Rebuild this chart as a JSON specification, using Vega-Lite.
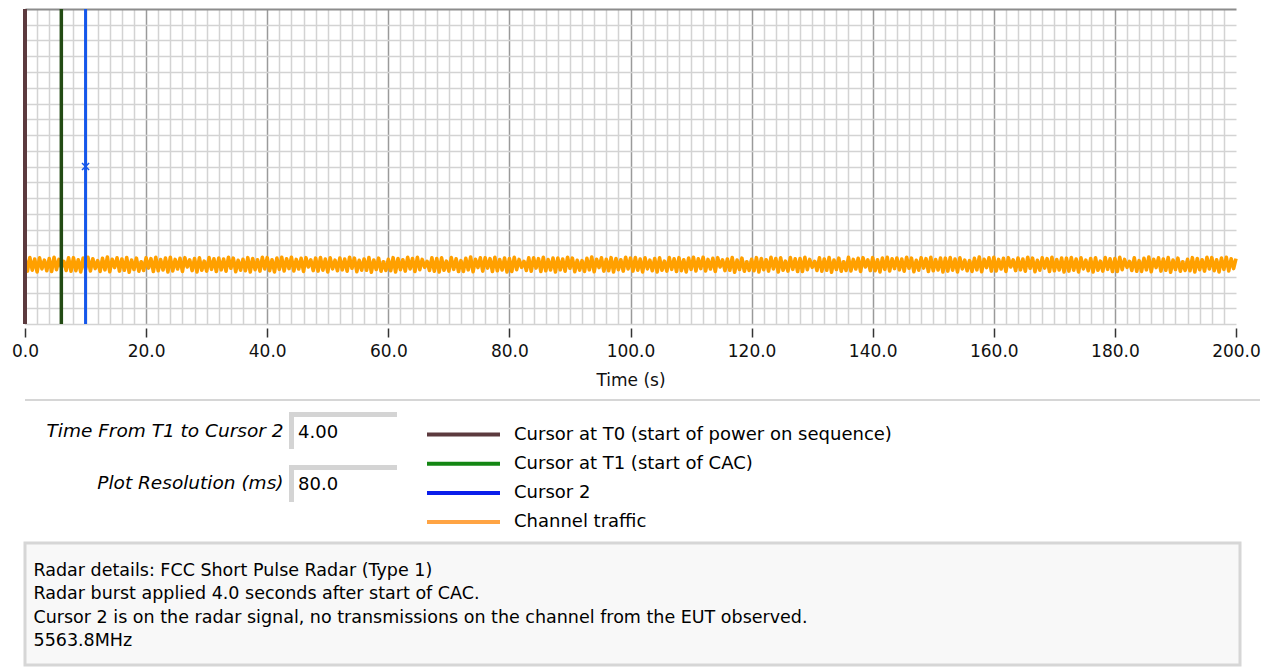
{
"$schema": "https://vega.github.io/schema/vega-lite/v6.json",
"background": "white",
"padding": {"left": 10, "top": 7, "right": 2, "bottom": 0},
"spacing": 9,
"config": {"view": {"stroke": null}, "font": "DejaVu Sans"},
"resolve": {"scale": {"color": "independent"}, "legend": {"color": "independent"}},
"datasets": {
"cursors": [{"t":0,"series":"Cursor at T0 (start of power on sequence)"},{"t":6,"series":"Cursor at T1 (start of CAC)"},{"t":10,"series":"Cursor 2"}],
"marker": [{"t":10,"v":10}],
"fields": [{"label":"Time From T1 to Cursor 2","value":"4.00"},{"label":"Plot Resolution (ms)","value":"80.0"}],
"legend": [{"series":"Cursor at T0 (start of power on sequence)"},{"series":"Cursor at T1 (start of CAC)"},{"series":"Cursor 2"},{"series":"Channel traffic"}],
"notes": [{"line":"Radar details: FCC Short Pulse Radar (Type 1)"},{"line":"Radar burst applied 4.0 seconds after start of CAC."},{"line":"Cursor 2 is on the radar signal, no transmissions on the channel from the EUT observed."},{"line":"5563.8MHz"}],
"traffic": [
{"t":0,"v":4.18},{"t":0.4,"v":3.36},{"t":0.8,"v":4.22},{"t":1.2,"v":3.42},{"t":1.6,"v":4.12},{"t":2,"v":3.3},{"t":2.4,"v":4.2},{"t":2.8,"v":3.5},{"t":3.2,"v":4.05},{"t":3.6,"v":3.38},
{"t":4,"v":4.16},{"t":4.4,"v":3.33},{"t":4.8,"v":4.24},{"t":5.2,"v":3.45},{"t":5.6,"v":4.1},{"t":6,"v":3.6},{"t":6.4,"v":3.98},{"t":6.8,"v":3.4},{"t":7.2,"v":4.2},{"t":7.6,"v":3.35},
{"t":8,"v":4.21},{"t":8.4,"v":3.39},{"t":8.8,"v":4.08},{"t":9.2,"v":3.31},{"t":9.6,"v":4.19},{"t":10,"v":3.47},{"t":10.4,"v":4.23},{"t":10.8,"v":3.37},{"t":11.2,"v":4.14},{"t":11.6,"v":3.52},
{"t":12,"v":4.02},{"t":12.4,"v":3.34},{"t":12.8,"v":4.17},{"t":13.2,"v":3.44},{"t":13.6,"v":4.25},{"t":14,"v":3.32},{"t":14.4,"v":4.11},{"t":14.8,"v":3.58},{"t":15.2,"v":4.2},{"t":15.6,"v":3.36},
{"t":16,"v":4.13},{"t":16.4,"v":3.41},{"t":16.8,"v":4.22},{"t":17.2,"v":3.29},{"t":17.6,"v":4.06},{"t":18,"v":3.46},{"t":18.4,"v":4.18},{"t":18.8,"v":3.35},{"t":19.2,"v":3.95},{"t":19.6,"v":3.4},
{"t":20,"v":4.2},{"t":20.4,"v":3.55},{"t":20.8,"v":4.15},{"t":21.2,"v":3.33},{"t":21.6,"v":4.23},{"t":22,"v":3.38},{"t":22.4,"v":4.09},{"t":22.8,"v":3.43},{"t":23.2,"v":4.19},{"t":23.6,"v":3.31},
{"t":24,"v":4.24},{"t":24.4,"v":3.37},{"t":24.8,"v":4.1},{"t":25.2,"v":3.49},{"t":25.6,"v":4.17},{"t":26,"v":3.34},{"t":26.4,"v":4.21},{"t":26.8,"v":3.62},{"t":27.2,"v":4.07},{"t":27.6,"v":3.39},
{"t":28,"v":4.16},{"t":28.4,"v":3.3},{"t":28.8,"v":4.2},{"t":29.2,"v":3.41},{"t":29.6,"v":3.99},{"t":30,"v":3.36},{"t":30.4,"v":4.22},{"t":30.8,"v":3.47},{"t":31.2,"v":4.14},{"t":31.6,"v":3.33},
{"t":32,"v":4.19},{"t":32.4,"v":3.44},{"t":32.8,"v":4.12},{"t":33.2,"v":3.35},{"t":33.6,"v":4.24},{"t":34,"v":3.54},{"t":34.4,"v":4.18},{"t":34.8,"v":3.32},{"t":35.2,"v":4.04},{"t":35.6,"v":3.42},
{"t":36,"v":4.11},{"t":36.4,"v":3.38},{"t":36.8,"v":4.21},{"t":37.2,"v":3.3},{"t":37.6,"v":4.16},{"t":38,"v":3.45},{"t":38.4,"v":4.08},{"t":38.8,"v":3.36},{"t":39.2,"v":4.23},{"t":39.6,"v":3.5},
{"t":40,"v":4.21},{"t":40.4,"v":3.39},{"t":40.8,"v":4.08},{"t":41.2,"v":3.31},{"t":41.6,"v":4.19},{"t":42,"v":3.47},{"t":42.4,"v":4.23},{"t":42.8,"v":3.37},{"t":43.2,"v":4.14},{"t":43.6,"v":3.52},
{"t":44,"v":4.24},{"t":44.4,"v":3.37},{"t":44.8,"v":4.1},{"t":45.2,"v":3.49},{"t":45.6,"v":4.17},{"t":46,"v":3.34},{"t":46.4,"v":4.21},{"t":46.8,"v":3.62},{"t":47.2,"v":4.07},{"t":47.6,"v":3.39},
{"t":48,"v":4.18},{"t":48.4,"v":3.36},{"t":48.8,"v":4.22},{"t":49.2,"v":3.42},{"t":49.6,"v":4.12},{"t":50,"v":3.3},{"t":50.4,"v":4.2},{"t":50.8,"v":3.5},{"t":51.2,"v":4.05},{"t":51.6,"v":3.38},
{"t":52,"v":4.19},{"t":52.4,"v":3.44},{"t":52.8,"v":4.12},{"t":53.2,"v":3.35},{"t":53.6,"v":4.24},{"t":54,"v":3.54},{"t":54.4,"v":4.18},{"t":54.8,"v":3.32},{"t":55.2,"v":4.04},{"t":55.6,"v":3.42},
{"t":56,"v":4.13},{"t":56.4,"v":3.41},{"t":56.8,"v":4.22},{"t":57.2,"v":3.29},{"t":57.6,"v":4.06},{"t":58,"v":3.46},{"t":58.4,"v":4.18},{"t":58.8,"v":3.35},{"t":59.2,"v":3.95},{"t":59.6,"v":3.4},
{"t":60,"v":4.11},{"t":60.4,"v":3.38},{"t":60.8,"v":4.21},{"t":61.2,"v":3.3},{"t":61.6,"v":4.16},{"t":62,"v":3.45},{"t":62.4,"v":4.08},{"t":62.8,"v":3.36},{"t":63.2,"v":4.23},{"t":63.6,"v":3.5},
{"t":64,"v":4.16},{"t":64.4,"v":3.33},{"t":64.8,"v":4.24},{"t":65.2,"v":3.45},{"t":65.6,"v":4.1},{"t":66,"v":3.6},{"t":66.4,"v":3.98},{"t":66.8,"v":3.4},{"t":67.2,"v":4.2},{"t":67.6,"v":3.35},
{"t":68,"v":4.16},{"t":68.4,"v":3.3},{"t":68.8,"v":4.2},{"t":69.2,"v":3.41},{"t":69.6,"v":3.99},{"t":70,"v":3.36},{"t":70.4,"v":4.22},{"t":70.8,"v":3.47},{"t":71.2,"v":4.14},{"t":71.6,"v":3.33},
{"t":72,"v":4.02},{"t":72.4,"v":3.34},{"t":72.8,"v":4.17},{"t":73.2,"v":3.44},{"t":73.6,"v":4.25},{"t":74,"v":3.32},{"t":74.4,"v":4.11},{"t":74.8,"v":3.58},{"t":75.2,"v":4.2},{"t":75.6,"v":3.36},
{"t":76,"v":4.2},{"t":76.4,"v":3.55},{"t":76.8,"v":4.15},{"t":77.2,"v":3.33},{"t":77.6,"v":4.23},{"t":78,"v":3.38},{"t":78.4,"v":4.09},{"t":78.8,"v":3.43},{"t":79.2,"v":4.19},{"t":79.6,"v":3.31},
{"t":80,"v":4.16},{"t":80.4,"v":3.33},{"t":80.8,"v":4.24},{"t":81.2,"v":3.45},{"t":81.6,"v":4.1},{"t":82,"v":3.6},{"t":82.4,"v":3.98},{"t":82.8,"v":3.4},{"t":83.2,"v":4.2},{"t":83.6,"v":3.35},
{"t":84,"v":4.2},{"t":84.4,"v":3.55},{"t":84.8,"v":4.15},{"t":85.2,"v":3.33},{"t":85.6,"v":4.23},{"t":86,"v":3.38},{"t":86.4,"v":4.09},{"t":86.8,"v":3.43},{"t":87.2,"v":4.19},{"t":87.6,"v":3.31},
{"t":88,"v":4.19},{"t":88.4,"v":3.44},{"t":88.8,"v":4.12},{"t":89.2,"v":3.35},{"t":89.6,"v":4.24},{"t":90,"v":3.54},{"t":90.4,"v":4.18},{"t":90.8,"v":3.32},{"t":91.2,"v":4.04},{"t":91.6,"v":3.42},
{"t":92,"v":4.02},{"t":92.4,"v":3.34},{"t":92.8,"v":4.17},{"t":93.2,"v":3.44},{"t":93.6,"v":4.25},{"t":94,"v":3.32},{"t":94.4,"v":4.11},{"t":94.8,"v":3.58},{"t":95.2,"v":4.2},{"t":95.6,"v":3.36},
{"t":96,"v":4.11},{"t":96.4,"v":3.38},{"t":96.8,"v":4.21},{"t":97.2,"v":3.3},{"t":97.6,"v":4.16},{"t":98,"v":3.45},{"t":98.4,"v":4.08},{"t":98.8,"v":3.36},{"t":99.2,"v":4.23},{"t":99.6,"v":3.5},
{"t":100,"v":4.18},{"t":100.4,"v":3.36},{"t":100.8,"v":4.22},{"t":101.2,"v":3.42},{"t":101.6,"v":4.12},{"t":102,"v":3.3},{"t":102.4,"v":4.2},{"t":102.8,"v":3.5},{"t":103.2,"v":4.05},{"t":103.6,"v":3.38},
{"t":104,"v":4.16},{"t":104.4,"v":3.3},{"t":104.8,"v":4.2},{"t":105.2,"v":3.41},{"t":105.6,"v":3.99},{"t":106,"v":3.36},{"t":106.4,"v":4.22},{"t":106.8,"v":3.47},{"t":107.2,"v":4.14},{"t":107.6,"v":3.33},
{"t":108,"v":4.21},{"t":108.4,"v":3.39},{"t":108.8,"v":4.08},{"t":109.2,"v":3.31},{"t":109.6,"v":4.19},{"t":110,"v":3.47},{"t":110.4,"v":4.23},{"t":110.8,"v":3.37},{"t":111.2,"v":4.14},{"t":111.6,"v":3.52},
{"t":112,"v":4.24},{"t":112.4,"v":3.37},{"t":112.8,"v":4.1},{"t":113.2,"v":3.49},{"t":113.6,"v":4.17},{"t":114,"v":3.34},{"t":114.4,"v":4.21},{"t":114.8,"v":3.62},{"t":115.2,"v":4.07},{"t":115.6,"v":3.39},
{"t":116,"v":4.13},{"t":116.4,"v":3.41},{"t":116.8,"v":4.22},{"t":117.2,"v":3.29},{"t":117.6,"v":4.06},{"t":118,"v":3.46},{"t":118.4,"v":4.18},{"t":118.8,"v":3.35},{"t":119.2,"v":3.95},{"t":119.6,"v":3.4},
{"t":120,"v":4.11},{"t":120.4,"v":3.38},{"t":120.8,"v":4.21},{"t":121.2,"v":3.3},{"t":121.6,"v":4.16},{"t":122,"v":3.45},{"t":122.4,"v":4.08},{"t":122.8,"v":3.36},{"t":123.2,"v":4.23},{"t":123.6,"v":3.5},
{"t":124,"v":4.16},{"t":124.4,"v":3.3},{"t":124.8,"v":4.2},{"t":125.2,"v":3.41},{"t":125.6,"v":3.99},{"t":126,"v":3.36},{"t":126.4,"v":4.22},{"t":126.8,"v":3.47},{"t":127.2,"v":4.14},{"t":127.6,"v":3.33},
{"t":128,"v":4.16},{"t":128.4,"v":3.33},{"t":128.8,"v":4.24},{"t":129.2,"v":3.45},{"t":129.6,"v":4.1},{"t":130,"v":3.6},{"t":130.4,"v":3.98},{"t":130.8,"v":3.4},{"t":131.2,"v":4.2},{"t":131.6,"v":3.35},
{"t":132,"v":4.13},{"t":132.4,"v":3.41},{"t":132.8,"v":4.22},{"t":133.2,"v":3.29},{"t":133.6,"v":4.06},{"t":134,"v":3.46},{"t":134.4,"v":4.18},{"t":134.8,"v":3.35},{"t":135.2,"v":3.95},{"t":135.6,"v":3.4},
{"t":136,"v":4.24},{"t":136.4,"v":3.37},{"t":136.8,"v":4.1},{"t":137.2,"v":3.49},{"t":137.6,"v":4.17},{"t":138,"v":3.34},{"t":138.4,"v":4.21},{"t":138.8,"v":3.62},{"t":139.2,"v":4.07},{"t":139.6,"v":3.39},
{"t":140,"v":4.21},{"t":140.4,"v":3.39},{"t":140.8,"v":4.08},{"t":141.2,"v":3.31},{"t":141.6,"v":4.19},{"t":142,"v":3.47},{"t":142.4,"v":4.23},{"t":142.8,"v":3.37},{"t":143.2,"v":4.14},{"t":143.6,"v":3.52},
{"t":144,"v":4.19},{"t":144.4,"v":3.44},{"t":144.8,"v":4.12},{"t":145.2,"v":3.35},{"t":145.6,"v":4.24},{"t":146,"v":3.54},{"t":146.4,"v":4.18},{"t":146.8,"v":3.32},{"t":147.2,"v":4.04},{"t":147.6,"v":3.42},
{"t":148,"v":4.2},{"t":148.4,"v":3.55},{"t":148.8,"v":4.15},{"t":149.2,"v":3.33},{"t":149.6,"v":4.23},{"t":150,"v":3.38},{"t":150.4,"v":4.09},{"t":150.8,"v":3.43},{"t":151.2,"v":4.19},{"t":151.6,"v":3.31},
{"t":152,"v":4.18},{"t":152.4,"v":3.36},{"t":152.8,"v":4.22},{"t":153.2,"v":3.42},{"t":153.6,"v":4.12},{"t":154,"v":3.3},{"t":154.4,"v":4.2},{"t":154.8,"v":3.5},{"t":155.2,"v":4.05},{"t":155.6,"v":3.38},
{"t":156,"v":4.02},{"t":156.4,"v":3.34},{"t":156.8,"v":4.17},{"t":157.2,"v":3.44},{"t":157.6,"v":4.25},{"t":158,"v":3.32},{"t":158.4,"v":4.11},{"t":158.8,"v":3.58},{"t":159.2,"v":4.2},{"t":159.6,"v":3.36},
{"t":160,"v":4.24},{"t":160.4,"v":3.37},{"t":160.8,"v":4.1},{"t":161.2,"v":3.49},{"t":161.6,"v":4.17},{"t":162,"v":3.34},{"t":162.4,"v":4.21},{"t":162.8,"v":3.62},{"t":163.2,"v":4.07},{"t":163.6,"v":3.39},
{"t":164,"v":4.19},{"t":164.4,"v":3.44},{"t":164.8,"v":4.12},{"t":165.2,"v":3.35},{"t":165.6,"v":4.24},{"t":166,"v":3.54},{"t":166.4,"v":4.18},{"t":166.8,"v":3.32},{"t":167.2,"v":4.04},{"t":167.6,"v":3.42},
{"t":168,"v":4.2},{"t":168.4,"v":3.55},{"t":168.8,"v":4.15},{"t":169.2,"v":3.33},{"t":169.6,"v":4.23},{"t":170,"v":3.38},{"t":170.4,"v":4.09},{"t":170.8,"v":3.43},{"t":171.2,"v":4.19},{"t":171.6,"v":3.31},
{"t":172,"v":4.18},{"t":172.4,"v":3.36},{"t":172.8,"v":4.22},{"t":173.2,"v":3.42},{"t":173.6,"v":4.12},{"t":174,"v":3.3},{"t":174.4,"v":4.2},{"t":174.8,"v":3.5},{"t":175.2,"v":4.05},{"t":175.6,"v":3.38},
{"t":176,"v":4.16},{"t":176.4,"v":3.3},{"t":176.8,"v":4.2},{"t":177.2,"v":3.41},{"t":177.6,"v":3.99},{"t":178,"v":3.36},{"t":178.4,"v":4.22},{"t":178.8,"v":3.47},{"t":179.2,"v":4.14},{"t":179.6,"v":3.33},
{"t":180,"v":4.16},{"t":180.4,"v":3.33},{"t":180.8,"v":4.24},{"t":181.2,"v":3.45},{"t":181.6,"v":4.1},{"t":182,"v":3.6},{"t":182.4,"v":3.98},{"t":182.8,"v":3.4},{"t":183.2,"v":4.2},{"t":183.6,"v":3.35},
{"t":184,"v":4.02},{"t":184.4,"v":3.34},{"t":184.8,"v":4.17},{"t":185.2,"v":3.44},{"t":185.6,"v":4.25},{"t":186,"v":3.32},{"t":186.4,"v":4.11},{"t":186.8,"v":3.58},{"t":187.2,"v":4.2},{"t":187.6,"v":3.36},
{"t":188,"v":4.13},{"t":188.4,"v":3.41},{"t":188.8,"v":4.22},{"t":189.2,"v":3.29},{"t":189.6,"v":4.06},{"t":190,"v":3.46},{"t":190.4,"v":4.18},{"t":190.8,"v":3.35},{"t":191.2,"v":3.95},{"t":191.6,"v":3.4},
{"t":192,"v":4.11},{"t":192.4,"v":3.38},{"t":192.8,"v":4.21},{"t":193.2,"v":3.3},{"t":193.6,"v":4.16},{"t":194,"v":3.45},{"t":194.4,"v":4.08},{"t":194.8,"v":3.36},{"t":195.2,"v":4.23},{"t":195.6,"v":3.5},
{"t":196,"v":4.21},{"t":196.4,"v":3.39},{"t":196.8,"v":4.08},{"t":197.2,"v":3.31},{"t":197.6,"v":4.19},{"t":198,"v":3.47},{"t":198.4,"v":4.23},{"t":198.8,"v":3.37},{"t":199.2,"v":4.14},{"t":199.6,"v":3.52},
{"t":200,"v":4.15}
]
},
"vconcat": [
{
"width": 1211,
"height": 315,
"encoding": {
"x": {"field": "t", "type": "quantitative", "scale": {"domain": [0, 200], "nice": false, "zero": false},
"axis": {"title": "Time (s)", "values": [0,2,4,6,8,10,12,14,16,18,20,22,24,26,28,30,32,34,36,38,40,42,44,46,48,50,52,54,56,58,60,62,64,66,68,70,72,74,76,78,80,82,84,86,88,90,92,94,96,98,100,102,104,106,108,110,112,114,116,118,120,122,124,126,128,130,132,134,136,138,140,142,144,146,148,150,152,154,156,158,160,162,164,166,168,170,172,174,176,178,180,182,184,186,188,190,192,194,196,198,200],
"labelExpr": "datum.value % 20 === 0 ? format(datum.value, '.1f') : ''",
"labelFlush": false, "labelOverlap": false, "labelFont": "DejaVu Sans", "labelFontSize": 17, "labelColor": "#111111", "labelPadding": 6,
"offset": 4, "tickSize": 9, "tickWidth": 1.5, "tickColor": "#333333",
"tickOpacity": {"condition": {"test": "datum.value % 20 !== 0", "value": 0}, "value": 1},
"domain": false, "grid": true,
"gridColor": {"condition": {"test": "datum.value % 20 === 0", "value": "#9A9A9A"}, "value": "#D3D3D3"},
"gridOpacity": {"condition": {"test": "datum.value === 200", "value": 0}, "value": 1},
"gridWidth": 1.5,
"titleFont": "DejaVu Sans", "titleFontSize": 17, "titleFontWeight": "normal", "titleColor": "#111111", "titlePadding": 13}}
},
"layer": [
{"data": {"name": "traffic"}, "mark": {"type": "line", "color": "#FFA000", "strokeWidth": 3.6, "strokeJoin": "round"},
"encoding": {"y": {"field": "v", "type": "quantitative", "scale": {"domain": [0, 20], "nice": false, "zero": false},
"axis": {"title": null, "values": [0,1,2,3,4,5,6,7,8,9,10,11,12,13,14,15,16,17,18,19,20], "labels": false, "ticks": true, "tickSize": 15, "tickOpacity": 0, "domain": false, "grid": true,
"gridColor": {"condition": {"test": "datum.value === 20", "value": "#8C8C8C"}, "value": "#D3D3D3"},
"gridWidth": {"condition": {"test": "datum.value === 20", "value": 2}, "value": 1.5}, "minExtent": 15}}}},
{"data": {"name": "cursors"}, "mark": {"type": "rule"},
"encoding": {
"color": {"field": "series", "type": "nominal", "scale": {"domain": ["Cursor at T0 (start of power on sequence)", "Cursor at T1 (start of CAC)", "Cursor 2"], "range": ["#5C3A3E", "#234B14", "#1557EA"]}, "legend": null},
"strokeWidth": {"field": "series", "type": "nominal", "scale": {"domain": ["Cursor at T0 (start of power on sequence)", "Cursor at T1 (start of CAC)", "Cursor 2"], "range": [4, 3, 3]}, "legend": null}}},
{"data": {"name": "marker"}, "mark": {"type": "point", "shape": "M-1,-1L1,1M-1,1L1,-1", "size": 50, "color": "#1557EA", "strokeWidth": 1.5, "filled": false, "opacity": 1},
"encoding": {"y": {"field": "v", "type": "quantitative",
"axis": {"title": null, "values": [0,1,2,3,4,5,6,7,8,9,10,11,12,13,14,15,16,17,18,19,20], "labels": false, "ticks": true, "tickSize": 15, "tickOpacity": 0, "domain": false, "grid": true,
"gridColor": {"condition": {"test": "datum.value === 20", "value": "#8C8C8C"}, "value": "#D3D3D3"},
"gridWidth": {"condition": {"test": "datum.value === 20", "value": 2}, "value": 1.5}, "minExtent": 15}}}}
]
},
{
"width": 1235,
"height": 2,
"data": {"values": [{}]},
"mark": {"type": "point", "opacity": 0},
"view": {"fill": "#D6D6D6", "stroke": null}
},
{
"hconcat": [
{"width": 264, "height": 90, "data": {"values": [{}]}, "mark": {"type": "point", "opacity": 0}},
{"width": 108, "height": 90,
"layer": [
{"data": {"name": "fields"}, "mark": {"type": "rect", "color": "#D4D4D4"},
"encoding": {
"x": {"datum": 0, "type": "quantitative", "scale": {"domain": [0, 1], "nice": false, "zero": false}, "axis": null},
"x2": {"datum": 1},
"y": {"field": "label", "type": "nominal", "sort": null, "scale": {"paddingInner": 0.3, "paddingOuter": 0},
"axis": {"title": null, "domain": false, "ticks": false, "labelFont": "DejaVu Sans", "labelFontSize": 18.5, "labelFontStyle": "italic", "labelColor": "#000000", "labelPadding": 6, "labelLimit": 0, "minExtent": 0}}}},
{"data": {"name": "fields"}, "mark": {"type": "rect", "color": "#FFFFFF", "xOffset": 5, "yOffset": 5, "x2Offset": 5, "y2Offset": 5},
"encoding": {"x": {"datum": 0, "type": "quantitative"}, "x2": {"datum": 1}, "y": {"field": "label", "type": "nominal", "sort": null}}},
{"data": {"name": "fields"}, "mark": {"type": "text", "align": "left", "dx": 9, "dy": 2, "font": "DejaVu Sans", "fontSize": 18, "color": "#000000"},
"encoding": {"x": {"datum": 0, "type": "quantitative"}, "y": {"field": "label", "type": "nominal", "sort": null}, "text": {"field": "value"}}},
{"data": {"name": "legend"}, "mark": {"type": "point", "opacity": 0},
"encoding": {"color": {"field": "series", "type": "nominal", "sort": null,
"scale": {"domain": ["Cursor at T0 (start of power on sequence)", "Cursor at T1 (start of CAC)", "Cursor 2", "Channel traffic"], "range": ["#5C3A3E", "#138613", "#0A1EEB", "#FFA444"]},
"legend": {"orient": "none", "legendX": 160, "legendY": 8, "title": null, "symbolType": "M-3,0H3", "symbolSize": 592, "symbolStrokeWidth": 4, "symbolOpacity": 1, "labelFont": "DejaVu Sans", "labelFontSize": 18, "labelColor": "#000000", "labelOffset": 36, "rowPadding": 5.2, "padding": 0, "labelLimit": 0}}}}
]
}
],
"spacing": 0,
"bounds": "flush",
"resolve": {"scale": {"color": "independent"}}
},
{
"width": 1215,
"height": 122,
"data": {"name": "notes"},
"mark": {"type": "rect", "opacity": 0},
"encoding": {"y": {"field": "line", "type": "nominal", "sort": null, "scale": {"paddingInner": 0, "paddingOuter": 0.6},
"axis": {"title": null, "domain": false, "ticks": false, "tickSize": 0, "labelAlign": "left", "labelPadding": -8, "labelOffset": 2, "labelFont": "DejaVu Sans", "labelFontSize": 17.5, "labelColor": "#000000", "labelLimit": 0, "labelOverlap": false, "minExtent": 0}}},
"view": {"fill": "#F8F8F8", "stroke": "#D6D6D6", "strokeWidth": 3}
}
]
}
